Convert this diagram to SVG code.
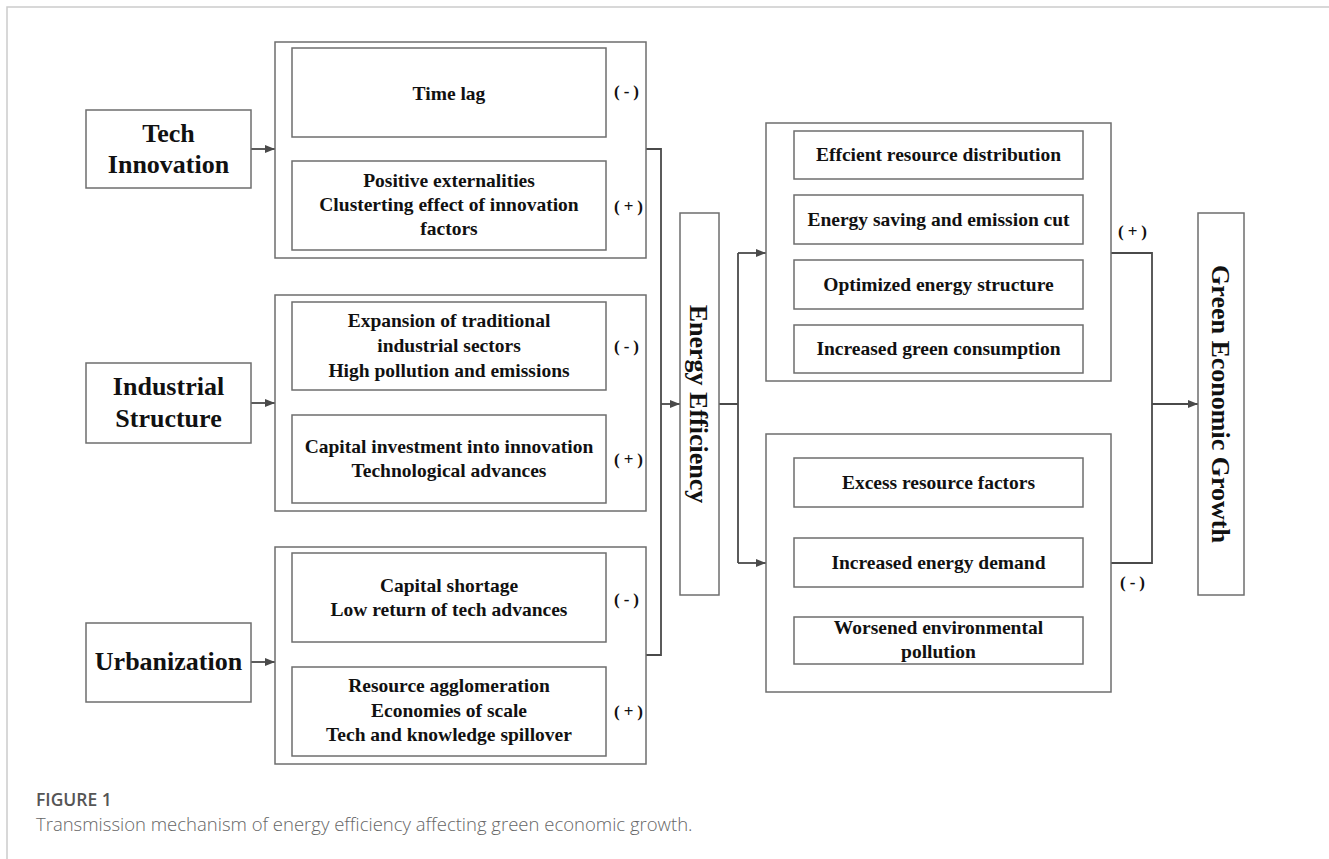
<svg xmlns="http://www.w3.org/2000/svg" width="1329" height="859" viewBox="0 0 1329 859">
<defs>
<style>
.frame{stroke:#cccccc;stroke-width:1.5;fill:none}
.box{fill:#ffffff;stroke:#6e6e6e;stroke-width:1.5}
.con{fill:none;stroke:#4a4a4a;stroke-width:1.8}
.lbl{font-family:"Liberation Serif","Times New Roman",serif;font-weight:bold;font-size:26px;fill:#111;text-anchor:middle}
.itx{font-family:"Liberation Serif","Times New Roman",serif;font-weight:bold;font-size:19.5px;fill:#111;text-anchor:middle}
.sgn{font-family:"Liberation Serif","Times New Roman",serif;font-weight:bold;font-size:17px;fill:#111;letter-spacing:4px}
.cap1{font-family:"Open Sans","Noto Sans",sans-serif;font-weight:600;font-size:17.5px;fill:#555}
.cap2{font-family:"Open Sans","Noto Sans",sans-serif;font-weight:300;font-size:18.5px;fill:#666}
</style>
<marker id="ah" markerWidth="10" markerHeight="8" refX="10" refY="4" orient="auto" markerUnits="userSpaceOnUse">
<path d="M0,0 L10,4 L0,8 z" fill="#4a4a4a"/>
</marker>
</defs>
<rect width="1329" height="859" fill="#ffffff"/>
<path class="frame" d="M7,859 V7 H1329"/>

<g id="connectors">
<path class="con" d="M251,149 H275" marker-end="url(#ah)"/>
<path class="con" d="M251,403 H275" marker-end="url(#ah)"/>
<path class="con" d="M251,662 H275" marker-end="url(#ah)"/>
<path class="con" d="M646,149 H661 V655 H646"/>
<path class="con" d="M661,404 H680" marker-end="url(#ah)"/>
<path class="con" d="M718,404 H738 M738,253 V563"/>
<path class="con" d="M738,253 H766" marker-end="url(#ah)"/>
<path class="con" d="M738,563 H766" marker-end="url(#ah)"/>
<path class="con" d="M1110,253 H1152 V563 H1110"/>
<path class="con" d="M1152,404 H1198" marker-end="url(#ah)"/>
</g>

<g id="tech-innovation">
<rect class="box" x="86" y="110" width="165" height="78"/>
<text class="lbl" x="168.5" y="142">Tech</text>
<text class="lbl" x="168.5" y="173">Innovation</text>
</g>
<g id="industrial-structure">
<rect class="box" x="86" y="363" width="165" height="80"/>
<text class="lbl" x="168.5" y="395">Industrial</text>
<text class="lbl" x="168.5" y="427">Structure</text>
</g>
<g id="urbanization">
<rect class="box" x="86" y="623" width="165" height="79"/>
<text class="lbl" x="168.5" y="670">Urbanization</text>
</g>

<g id="tech-effects">
<rect class="box" x="275" y="42" width="371" height="216"/>
<rect class="box" x="292" y="48" width="314" height="89"/>
<text class="itx" x="449" y="100">Time lag</text>
<text class="sgn" x="614" y="97">(-)</text>
<rect class="box" x="292" y="161" width="314" height="89"/>
<text class="itx" x="449" y="187">Positive externalities</text>
<text class="itx" x="449" y="211">Clusterting effect of innovation</text>
<text class="itx" x="449" y="235">factors</text>
<text class="sgn" x="614" y="212">(+)</text>
</g>

<g id="industrial-effects">
<rect class="box" x="275" y="295" width="371" height="216"/>
<rect class="box" x="292" y="302" width="314" height="88"/>
<text class="itx" x="449" y="327">Expansion  of traditional</text>
<text class="itx" x="449" y="352">industrial sectors</text>
<text class="itx" x="449" y="377">High pollution and emissions</text>
<text class="sgn" x="614" y="352">(-)</text>
<rect class="box" x="292" y="415" width="314" height="88"/>
<text class="itx" x="449" y="453">Capital investment into innovation</text>
<text class="itx" x="449" y="477">Technological advances</text>
<text class="sgn" x="614" y="465">(+)</text>
</g>

<g id="urbanization-effects">
<rect class="box" x="275" y="547" width="371" height="217"/>
<rect class="box" x="292" y="553" width="314" height="89"/>
<text class="itx" x="449" y="592">Capital shortage</text>
<text class="itx" x="449" y="616">Low return of tech advances</text>
<text class="sgn" x="614" y="605">(-)</text>
<rect class="box" x="292" y="667" width="314" height="89"/>
<text class="itx" x="449" y="692">Resource agglomeration</text>
<text class="itx" x="449" y="717">Economies of scale</text>
<text class="itx" x="449" y="741">Tech and knowledge spillover</text>
<text class="sgn" x="614" y="717">(+)</text>
</g>

<g id="energy-efficiency">
<rect class="box" x="680" y="213" width="39" height="382"/>
<text class="lbl" transform="translate(690,404) rotate(90)" x="0" y="0">Energy Efficiency</text>
</g>

<g id="positive-channels">
<rect class="box" x="766" y="123" width="345" height="258"/>
<rect class="box" x="794" y="131" width="289" height="48"/>
<text class="itx" x="938.5" y="161">Effcient resource distribution</text>
<rect class="box" x="794" y="195" width="289" height="49"/>
<text class="itx" x="938.5" y="226">Energy saving and emission cut</text>
<rect class="box" x="794" y="260" width="289" height="49"/>
<text class="itx" x="938.5" y="291">Optimized energy structure</text>
<rect class="box" x="794" y="325" width="289" height="48"/>
<text class="itx" x="938.5" y="355">Increased green consumption</text>
<text class="sgn" x="1118" y="237">(+)</text>
</g>

<g id="negative-channels">
<rect class="box" x="766" y="434" width="345" height="258"/>
<rect class="box" x="794" y="458" width="289" height="49"/>
<text class="itx" x="938.5" y="489">Excess resource factors</text>
<rect class="box" x="794" y="538" width="289" height="49"/>
<text class="itx" x="938.5" y="569">Increased energy demand</text>
<rect class="box" x="794" y="617" width="289" height="47"/>
<text class="itx" x="938.5" y="634">Worsened environmental</text>
<text class="itx" x="938.5" y="658">pollution</text>
<text class="sgn" x="1120" y="588">(-)</text>
</g>

<g id="green-economic-growth">
<rect class="box" x="1198" y="213" width="46" height="382"/>
<text class="lbl" transform="translate(1212,404) rotate(90)" x="0" y="0">Green Economic Growth</text>
</g>

<g id="caption">
<text class="cap1" x="36" y="806">FIGURE 1</text>
<text class="cap2" x="36" y="831">Transmission mechanism of energy efficiency affecting green economic growth.</text>
</g>
</svg>
